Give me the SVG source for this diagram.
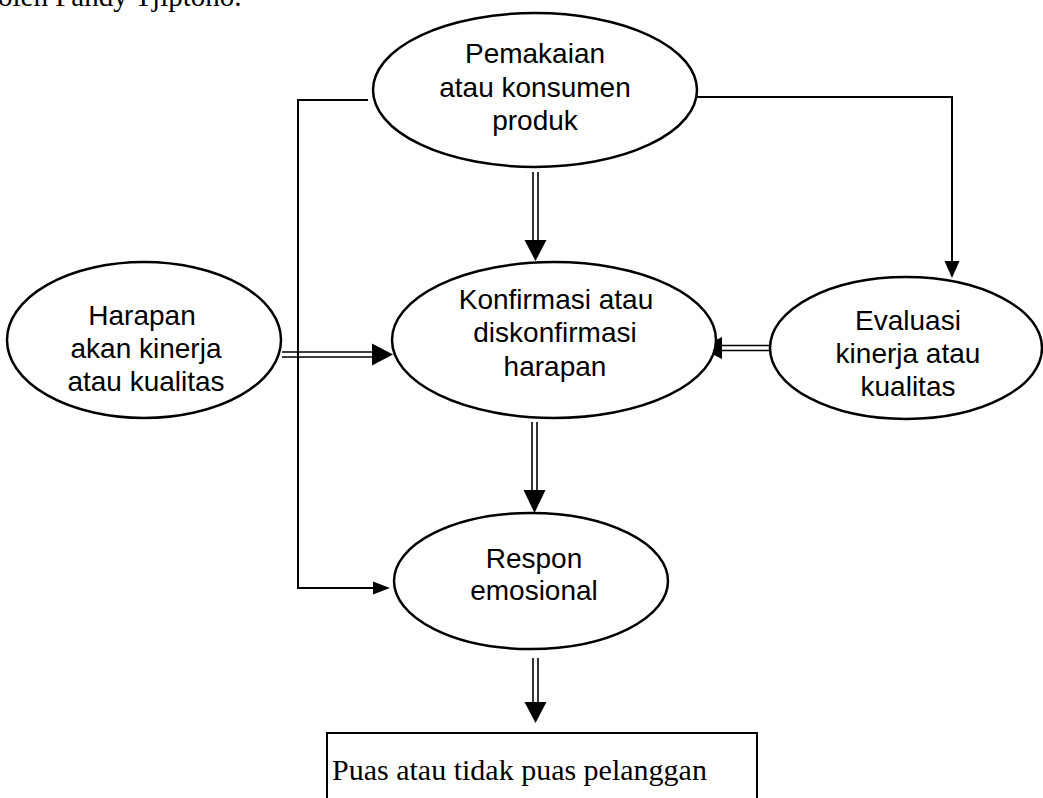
<svg xmlns="http://www.w3.org/2000/svg" width="1043" height="798" viewBox="0 0 1043 798">
<style>
.node ellipse{fill:#fff;stroke:#000;stroke-width:2.5}
.lbl{font-family:"Liberation Sans",Arial,sans-serif;font-size:28px;fill:#000;text-anchor:middle}
.ser{font-family:"Liberation Serif","Times New Roman",serif;fill:#000}
.ln{fill:none;stroke:#000;stroke-width:2}
.dl{fill:none;stroke:#000;stroke-width:1.6}
.ah{fill:#000;stroke:none}
</style>
<rect width="1043" height="798" fill="#fff"/>
<text class="ser" x="-2" y="6" font-size="29">oleh Fandy Tjiptono.</text>
<g id="connectors">
  <polyline class="ln" points="368,100 298,100 298,588 374,588"/>
  <polygon class="ah" points="390,588 373,581.5 373,594.5"/>
  <polyline class="ln" points="697,97 952,97 952,263"/>
  <polygon class="ah" points="952,278 944.5,261 959.5,261"/>
  <line class="dl" x1="533" y1="172" x2="533" y2="241"/>
  <line class="dl" x1="538" y1="172" x2="538" y2="241"/>
  <polygon class="ah" points="535.5,261 524.5,240 546.5,240"/>
  <line class="dl" x1="282" y1="352" x2="373" y2="352"/>
  <line class="dl" x1="282" y1="357" x2="373" y2="357"/>
  <polygon class="ah" points="393,354.5 372,343.5 372,365.5"/>
  <line class="dl" x1="770" y1="345.5" x2="721" y2="345.5"/>
  <line class="dl" x1="770" y1="350.5" x2="721" y2="350.5"/>
  <polygon class="ah" points="700,348 722,337 722,359"/>
  <line class="dl" x1="532" y1="422" x2="532" y2="491"/>
  <line class="dl" x1="537" y1="422" x2="537" y2="491"/>
  <polygon class="ah" points="534.5,513 523.5,490 545.5,490"/>
  <line class="dl" x1="533" y1="658" x2="533" y2="703"/>
  <line class="dl" x1="538" y1="658" x2="538" y2="703"/>
  <polygon class="ah" points="535.5,723 524.5,702 546.5,702"/>
</g>
<g id="node-pemakaian" class="node">
  <ellipse cx="535" cy="90" rx="162" ry="77"/>
  <text class="lbl" x="535" y="63">Pemakaian</text>
  <text class="lbl" x="535" y="97">atau konsumen</text>
  <text class="lbl" x="535" y="130">produk</text>
</g>
<g id="node-harapan" class="node">
  <ellipse cx="144" cy="340" rx="137" ry="78"/>
  <text class="lbl" x="142" y="325">Harapan</text>
  <text class="lbl" x="146" y="358">akan kinerja</text>
  <text class="lbl" x="146" y="391">atau kualitas</text>
</g>
<g id="node-konfirmasi" class="node">
  <ellipse cx="554" cy="340" rx="162" ry="78"/>
  <text class="lbl" x="556" y="309">Konfirmasi atau</text>
  <text class="lbl" x="555" y="342">diskonfirmasi</text>
  <text class="lbl" x="555" y="376">harapan</text>
</g>
<g id="node-evaluasi" class="node">
  <ellipse cx="906" cy="348" rx="136" ry="71"/>
  <text class="lbl" x="908" y="330">Evaluasi</text>
  <text class="lbl" x="908" y="363">kinerja atau</text>
  <text class="lbl" x="908" y="396">kualitas</text>
</g>
<g id="node-respon" class="node">
  <ellipse cx="531" cy="581" rx="137" ry="68"/>
  <text class="lbl" x="534" y="568">Respon</text>
  <text class="lbl" x="534" y="600">emosional</text>
</g>
<g id="node-puas">
  <rect x="327" y="733" width="430" height="80" fill="#fff" stroke="#000" stroke-width="2"/>
  <text class="ser" x="332" y="780" font-size="30">Puas atau tidak puas pelanggan</text>
</g>
</svg>
